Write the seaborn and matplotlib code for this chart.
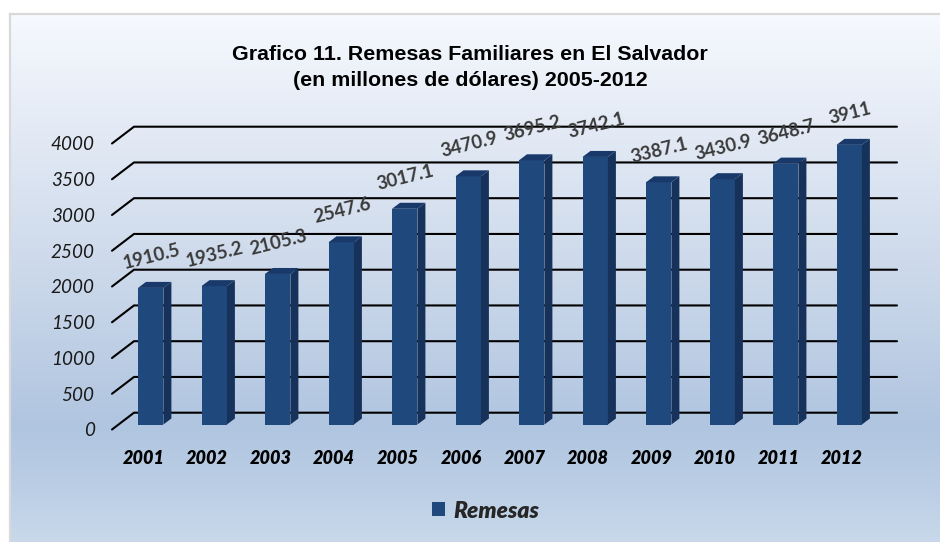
import numpy as np
import pandas as pd
import matplotlib
matplotlib.use("Agg")
import matplotlib.pyplot as plt
from matplotlib.colors import LinearSegmentedColormap
from matplotlib.patches import Polygon
from matplotlib.transforms import ScaledTranslation
import seaborn as sns

years = ["2001", "2002", "2003", "2004", "2005", "2006",
         "2007", "2008", "2009", "2010", "2011", "2012"]
remesas = [1910.5, 1935.2, 2105.3, 2547.6, 3017.1, 3470.9,
           3695.2, 3742.1, 3387.1, 3430.9, 3648.7, 3911]
remesas_labels = ["1910.5", "1935.2", "2105.3", "2547.6", "3017.1", "3470.9",
                  "3695.2", "3742.1", "3387.1", "3430.9", "3648.7", "3911"]
y_ticks = [0, 500, 1000, 1500, 2000, 2500, 3000, 3500, 4000]

W, H, DPI = 940, 542, 100
sns.set_theme(style="white")
plt.rcParams["font.family"] = ["Lato", "DejaVu Sans"]

fig = plt.figure(figsize=(W / DPI, H / DPI), dpi=DPI, facecolor="white")


def px_axes(left, top, right, bottom, **kw):
    return fig.add_axes([left / W, 1 - bottom / H, (right - left) / W, (bottom - top) / H], **kw)


# Panel background: pale at the top, deepest blue low down, lifting again at the foot
bg = px_axes(9.5, 14, 941, 543)
shade = LinearSegmentedColormap.from_list(
    "panel",
    [(0.00, "#f6f9fe"), (0.22, "#e3eaf5"), (0.50, "#cbd8ea"),
     (0.78, "#b0c5e0"), (0.90, "#bbcee5"), (1.00, "#c9d9eb")],
)
bg.imshow(np.linspace(0, 1, 256)[:, None], aspect="auto", cmap=shade, vmin=0, vmax=1)
bg.set_xticks([])
bg.set_yticks([])
for side, spine in bg.spines.items():
    spine.set_visible(side in ("left", "top"))
    spine.set_color("#d9d9d9")
    spine.set_linewidth(1.6)

# Plot area: y = 0 and y = 4000 sit on the front ends of the slanted wall lines
ax = px_axes(112, 143.5, 897, 429.5)
ax.patch.set_alpha(0)
sns.despine(ax=ax, left=True, bottom=True)

df = pd.DataFrame({"Año": years, "Remesas": remesas})
sns.barplot(data=df, x="Año", y="Remesas", color="#1f497d", saturation=1,
            width=0.40, errorbar=None, label="Remesas", edgecolor="none",
            linewidth=0, ax=ax, zorder=3)

px_x = 63.5            # pixels per category
px_y = 286 / 4000      # pixels per unit
ax.set_xlim(-38.7 / px_x, 746.3 / px_x)
ax.set_ylim(0, 4000)

# Pseudo-3D depth expressed in data units
base = 5 / px_y
dx, dy = 8 / px_x, 6 / px_y
wall_dx = 22 / px_x
wall_dy = 16.8 / px_y

for tick in y_ticks:
    ax.plot([ax.get_xlim()[0], ax.get_xlim()[0] + wall_dx, ax.get_xlim()[1]],
            [tick, tick + wall_dy, tick + wall_dy],
            color="black", lw=1.5, clip_on=False, zorder=1,
            solid_capstyle="round", solid_joinstyle="miter")

for bar, text, value in zip(ax.containers[0], remesas_labels, remesas):
    bar.set_y(base)
    x0, x1 = bar.get_x(), bar.get_x() + bar.get_width()
    y0, y1 = base, base + value
    ax.add_patch(Polygon([(x1, y0), (x1 + dx, y0 + dy), (x1 + dx, y1 + dy), (x1, y1)],
                         closed=True, fc="#16325a", ec="none", zorder=3, clip_on=False))
    ax.add_patch(Polygon([(x0, y1), (x1, y1), (x1 + dx, y1 + dy), (x0 + dx, y1 + dy)],
                         closed=True, fc="#19396a", ec="none", zorder=3, clip_on=False))
    ax.annotate(text, xy=((x0 + x1) / 2, y1), xytext=(1 * 72 / DPI, 31.5 * 72 / DPI),
                textcoords="offset points", ha="center", va="center",
                rotation=14, rotation_mode="anchor", color="#3a3a3a",
                fontsize=13.4, fontweight="bold", annotation_clip=False, zorder=4)

ax.set_xlabel("")
ax.set_ylabel("")
ax.set_yticks(y_ticks, [str(t) for t in y_ticks], fontsize=13.6, fontstyle="italic", color="#1a1a1a")
ax.set_xticks(range(len(years)), years, fontsize=13, fontstyle="italic",
              fontweight="heavy", color="black")
ax.tick_params(axis="y", length=0, pad=12.5)
ax.tick_params(axis="x", length=0, pad=14.5)
shift = ScaledTranslation(-7 / DPI, 0, fig.dpi_scale_trans)
for lab in ax.get_xticklabels():
    lab.set_transform(lab.get_transform() + shift)

fig.text(470 / W, 1 - 67.5 / H,
         "Grafico 11. Remesas Familiares en El Salvador\n(en millones de dólares) 2005-2012",
         ha="center", va="center", family="Liberation Sans", fontweight="bold",
         fontsize=15.4, linespacing=1.47, color="black")

leg = ax.legend(loc="center", bbox_to_anchor=(485.5 / W, 1 - 511 / H),
                bbox_transform=fig.transFigure, frameon=False,
                prop={"family": "Lato", "style": "italic", "weight": "heavy", "size": 16.5},
                handlelength=0.55, handleheight=0.55, handletextpad=0.35)

fig.savefig("out.png", dpi=DPI, facecolor="white")
